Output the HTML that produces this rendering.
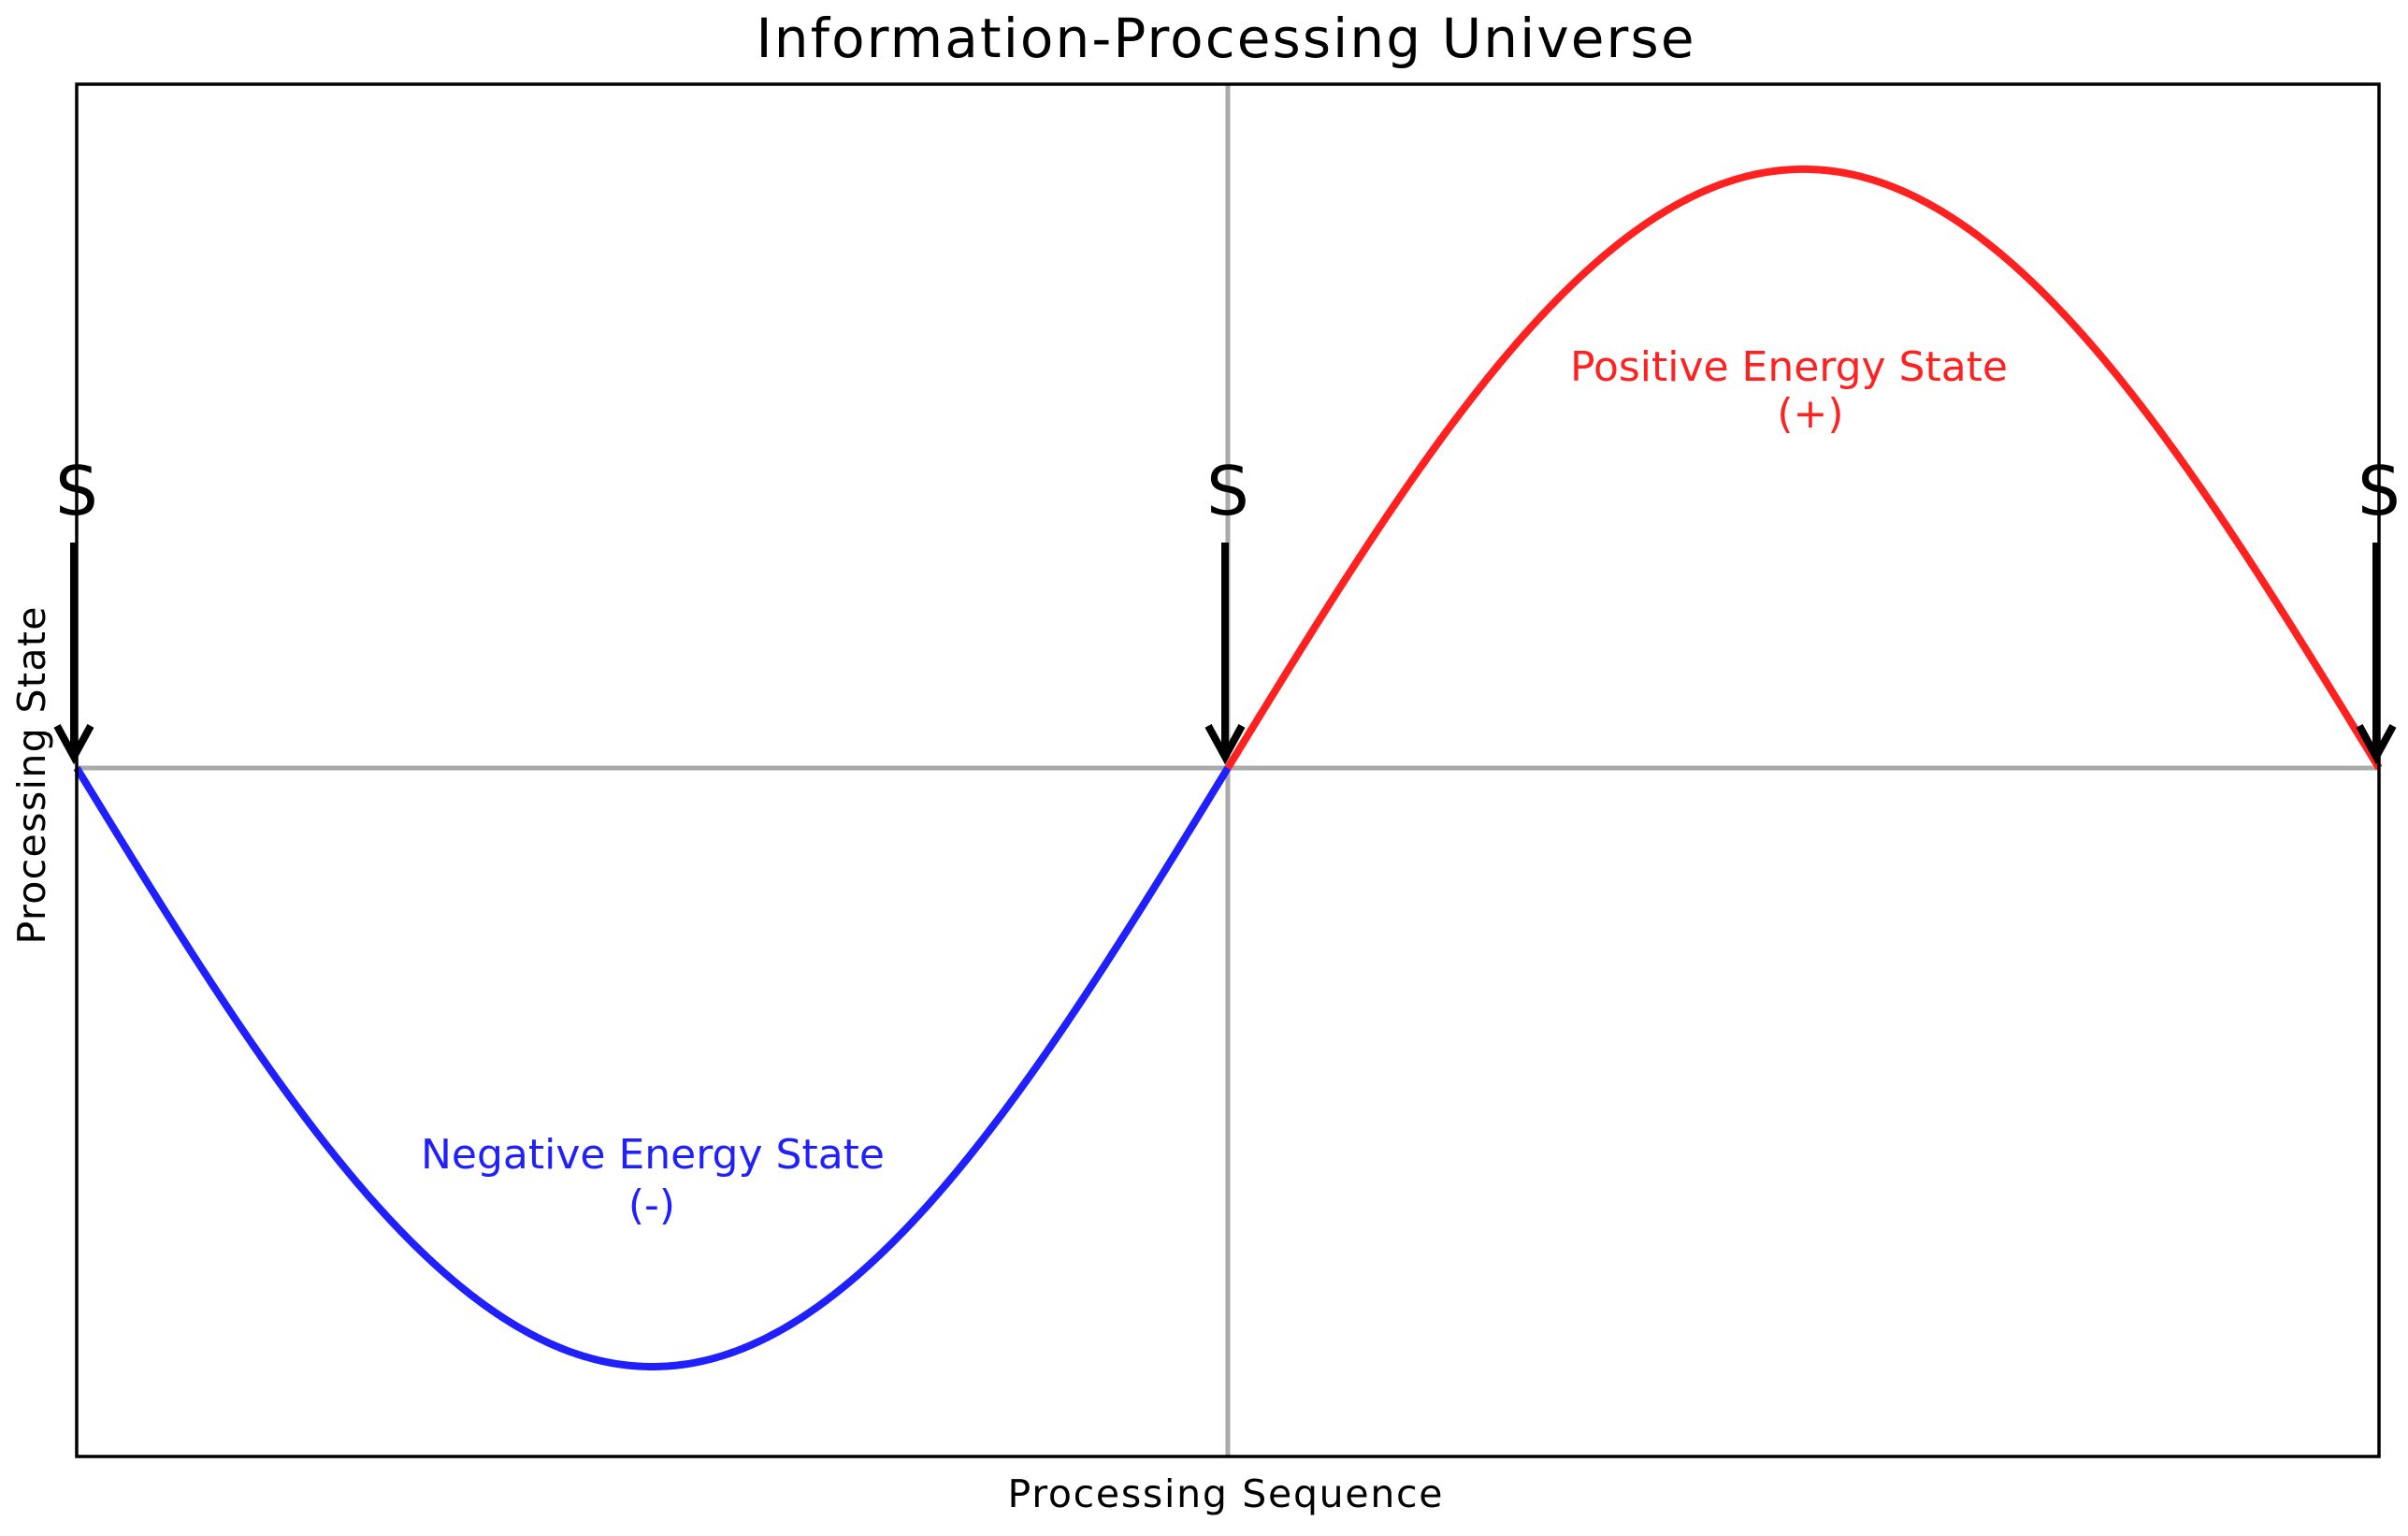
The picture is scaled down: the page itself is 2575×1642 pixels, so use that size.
<!DOCTYPE html>
<html><head><meta charset="utf-8"><style>html,body{margin:0;padding:0;background:#fff}svg{display:block}</style></head>
<body>
<svg id="chart" width="2575" height="1642" viewBox="0 0 2575 1642" xmlns="http://www.w3.org/2000/svg" font-family="DejaVu Sans, Liberation Sans, sans-serif">
<text x="1310" y="61" font-size="58" text-anchor="middle" textLength="1003">Information-Processing Universe</text>
<g id="plot"></g>
<rect x="82" y="90" width="2462" height="1467" fill="none" stroke="#000" stroke-width="3.5"/>
<text x="1310" y="1611" font-size="41" text-anchor="middle" textLength="465">Processing Sequence</text>
<text transform="translate(48,829) rotate(-90)" font-size="41" text-anchor="middle" textLength="361">Processing State</text>
<text x="1913" y="407" font-size="44" fill="#ff2020" text-anchor="middle" textLength="468">Positive Energy State</text>
<text x="1936" y="457" font-size="44" fill="#ff2020" text-anchor="middle">(+)</text>
<text x="698" y="1249" font-size="44" fill="#2020ff" text-anchor="middle" textLength="496">Negative Energy State</text>
<text x="697" y="1303" font-size="44" fill="#2020ff" text-anchor="middle">(-)</text>
</svg>
<script>
const xDomain = [-Math.PI, Math.PI];
const yDomain = [-1.150, 1.142];
const sampleCount = 400;
const markerXs = [-Math.PI, 0, Math.PI];
const markerLabels = ['S', 'S', 'S'];

const NS = 'http://www.w3.org/2000/svg';
const L = 82, R = 2544, T = 90, B = 1557;
const sx = v => L + (v - xDomain[0]) / (xDomain[1] - xDomain[0]) * (R - L);
const sy = v => B - (v - yDomain[0]) / (yDomain[1] - yDomain[0]) * (B - T);
const g = document.getElementById('plot');
function mk(tag, attrs) { const e = document.createElementNS(NS, tag); for (const k in attrs) e.setAttribute(k, attrs[k]); g.appendChild(e); return e; }

const h = mk('line', {x1: L, x2: R, y1: sy(0), y2: sy(0), stroke: '#aaa', 'stroke-width': 5});


const v = mk('line', {x1: sx(0), x2: sx(0), y1: T, y2: B, stroke: '#aaa', 'stroke-width': 5});



function curve(a, b, color, name) {
  let d = '';
  for (let i = 0; i <= sampleCount; i++) {
    const x = a + (b - a) * i / sampleCount;
    d += (i ? 'L' : 'M') + sx(x).toFixed(2) + ' ' + sy(Math.sin(x)).toFixed(2);
  }
  const p = mk('path', {d: d, fill: 'none', stroke: color, 'stroke-width': 8});
  
  
}
curve(xDomain[0], 0, '#2020ff', 'negative-energy-curve');
curve(0, xDomain[1], '#ff2020', 'positive-energy-curve');

markerXs.forEach((mx, i) => {
  const x = sx(mx) - 3, tipY = sy(0) - 12;
  const ln = mk('line', {x1: x, x2: x, y1: 580, y2: tipY, stroke: '#000', 'stroke-width': 8});
  
  
  const hd = mk('path', {d: `M${x-18} ${tipY-33} L${x} ${tipY} L${x+18} ${tipY-33}`, fill: 'none', stroke: '#000', 'stroke-width': 8});
  
  
  const t = mk('text', {x: sx(mx), y: 550, 'font-size': 72, 'text-anchor': 'middle'});
  t.textContent = markerLabels[i];
  
  
});
</script>
</body></html>
